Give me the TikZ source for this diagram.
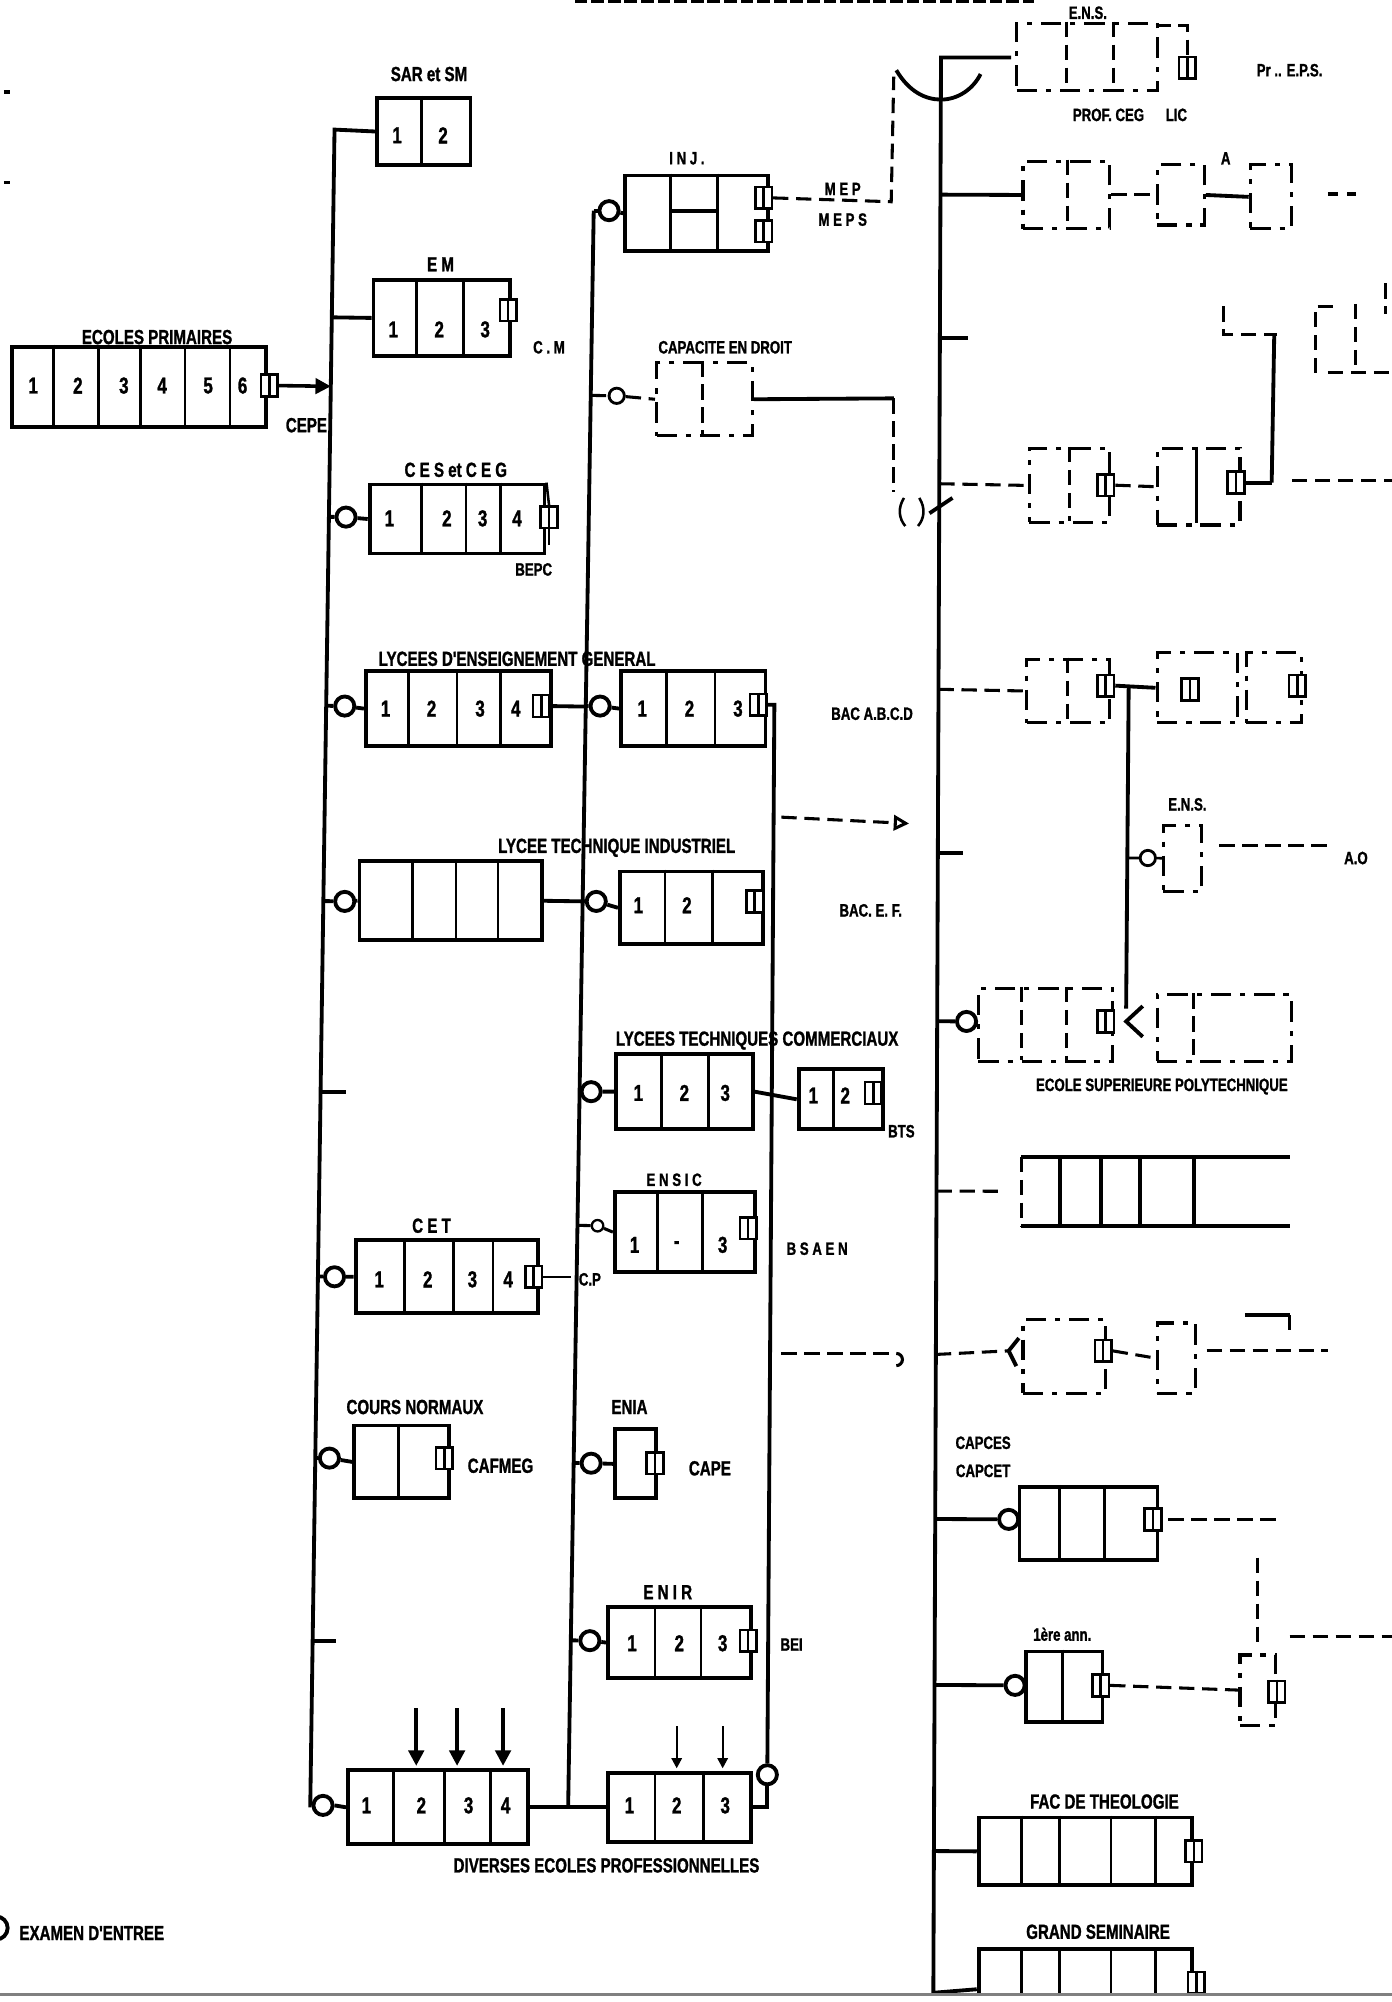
\documentclass[tikz,border=0pt]{standalone}
\usepackage{fontspec}
\newfontfamily\lf{Liberation Sans}[FakeStretch=0.74,FakeBold=1.2]
\usetikzlibrary{arrows.meta,calc}
\newcommand\lfont{\fontsize{16}{17}\selectfont\lf\bfseries}
\newcommand\sfont{\fontsize{14}{15}\selectfont\lf\bfseries}
\newcommand\nfont{\fontsize{18}{19}\selectfont\lf\bfseries}
\newcommand\bx[6][cbox]{\node[#1,minimum width=#5pt,minimum height=#6pt] (#2) at (#3,#4) {};}
\newcommand\mydv[4][tl]{\foreach \pa in {#4} {\draw[#1] (\pa,#2) -- (\pa,#3);}}
\newcommand\exsq[3]{\node[exq] (#1) at (#2,#3) {}; \draw[tl] (#1.north) -- (#1.south);}
\newcommand\nums[2]{\foreach \pa/\pb in {#2} {\node[nb] at (\pa,#1) {\pb};}}
\begin{document}
\begin{tikzpicture}[x=1pt,y=-1pt,
 bl/.style={line width=3pt},
 tl/.style={line width=2pt},
 dl/.style={line width=2.4pt,dash pattern=on 12pt off 6pt},
 cbox/.style={draw,line width=3pt,inner sep=0pt,anchor=north west},
 dbox/.style={draw,line width=2.4pt,dash pattern=on 16pt off 7pt on 4pt off 7pt,inner sep=0pt,anchor=north west},
 ent/.style={circle,draw,line width=3pt,minimum size=15pt,inner sep=0pt,fill=white},
 exq/.style={draw,line width=2pt,minimum width=13pt,minimum height=17pt,inner sep=0pt,fill=white},
 lbl/.style={font=\lfont,inner sep=0pt},
 slbl/.style={font=\sfont,inner sep=0pt},
 nb/.style={font=\nfont,inner sep=0pt},
 arr/.style={line width=2.8pt,-{Triangle[length=12pt,width=12pt]}},
]
\useasboundingbox (0,0) rectangle (1090,1568);
\fill[white] (0,0) rectangle (1090,1568);
% margin marks and cut header
\draw[line width=2.5pt] (3,72) -- (8,72) (3,143) -- (8,143);
\draw[line width=3pt,dash pattern=on 10pt off 3pt] (450,1) -- (810,1);

% trunk coordinates
\coordinate (t1a) at (262,101.5);
\coordinate (t1b) at (243,1414);
\coordinate (t2a) at (465,165);
\coordinate (t2b) at (445,1414);
\coordinate (t4a) at (737,45);
\coordinate (t4b) at (731,1562);

% ===== ECOLES PRIMAIRES =====
\bx{ep}{8}{270}{199}{63}
\mydv{270}{333}{42,77,110,145,180}
\nums{302}{26/1,61/2,97/3,127/4,163/5,190/6}
\node[lbl] at (123,264) {ECOLES PRIMAIRES};
\exsq{epx}{211}{302}
\node[lbl] at (240,333) {CEPE};
\draw[arr] (epx.east) -- ($(t1a)!(epx.east)!(t1b)$);

% ===== SAR et SM =====
\bx{sar}{294}{75}{73}{53}
\mydv{75}{128}{330}
\nums{106}{311/1,347/2}
\node[lbl] at (336,58) {SAR et SM};

% ===== E M =====
\bx{em}{291}{218}{107}{59}
\mydv{218}{277}{326,363}
\nums{258}{308/1,344/2,380/3}
\node[lbl] at (345,207) {E M};
\exsq{emx}{398}{243}
\node[slbl] at (430,272) {C . M};
\draw[bl] (em.west) -- ($(t1a)!(em.west)!(t1b)$);

% ===== CES et CEG =====
\bx{ces}{288}{378}{137}{54}
\mydv{378}{432}{330,365,392}
\nums{406}{305/1,350/2,378/3,405/4}
\node[lbl] at (357,368) {C E S et C E G};
\exsq{cesx}{430}{405}
\draw[tl] (ces.north east) -- (cesx.north);
\draw[tl] (cesx.south) -- ++(0,12);
\node[slbl] at (418,446) {BEPC};
\node[ent] (cesc) at (271,405) {};
\draw[bl] ($(t1a)!(cesc)!(t1b)$) -- (cesc) -- (ces.west);

% ===== LYCEES D'ENSEIGNEMENT GENERAL =====
\bx{lg}{285}{524}{145}{59}
\mydv{524}{583}{320,358,392}
\nums{555}{302/1,338/2,376/3,404/4}
\exsq{lgx}{424}{553}
\node[lbl] at (405,516) {LYCEES D'ENSEIGNEMENT GENERAL};
\node[ent] (lgc) at (270,553) {};
\draw[bl] ($(t1a)!(lgc)!(t1b)$) -- (lgc) -- (lg.west);
\draw[bl] (lgx.east) -- ($(t2a)!(lgx.east)!(t2b)$);
\node[ent] (lg2c) at (470,553) {};
\bx{lg2}{485}{524}{113}{59}
\mydv{524}{583}{522,560}
\nums{555}{503/1,540/2,578/3}
\exsq{lg2x}{594}{552}
\draw[bl] ($(t2a)!(lg2c)!(t2b)$) -- (lg2c) -- (lg2.west);
\node[slbl] at (683,559) {BAC A.B.C.D};

% ===== LYCEE TECHNIQUE INDUSTRIEL =====
\bx{lti}{280}{673}{143}{62}
\mydv{673}{735}{323,357,390}
\node[ent] (ltic) at (270,706) {};
\draw[bl] ($(t1a)!(ltic)!(t1b)$) -- (ltic) -- (lti.west);
\draw[bl] (lti.east) -- ($(t2a)!(lti.east)!(t2b)$);
\node[ent] (lti2c) at (467,706) {};
\bx{lti2}{484}{681}{112}{57}
\mydv{681}{738}{521,558}
\nums{709}{500/1,538/2}
\exsq{lti2x}{591}{706}
\draw[bl] ($(t2a)!(lti2c)!(t2b)$) -- (lti2c) -- (lti2.west);
\node[lbl] at (483,664) {LYCEE TECHNIQUE INDUSTRIEL};
\node[slbl] at (682,713) {BAC. E. F.};

% stubs on trunk 1
\draw[bl] ($(t1a)!(0,852)!(t1b)$) -- ++(20,0);
\draw[bl] ($(t1a)!(0,1282)!(t1b)$) -- ++(18,0);

% ===== LYCEES TECHNIQUES COMMERCIAUX =====
\node[lbl] at (593,815) {LYCEES TECHNIQUES COMMERCIAUX};
\node[ent] (ltcc) at (463,855) {};
\bx{ltc}{481}{824}{107}{59}
\mydv{824}{883}{518,555}
\nums{856}{500/1,536/2,568/3}
\draw[bl] ($(t2a)!(ltcc)!(t2b)$) -- (ltcc) -- (ltc.west);
\bx{ltc2}{624}{836}{66}{47}
\mydv{836}{883}{653}
\nums{858}{637/1,662/2}
\exsq{ltc2x}{684}{856}
\draw[bl] (ltc.east) -- (ltc2.west);
\node[slbl] at (706,886) {BTS};

% trunk 3 circle
\node[ent] (dc3) at (601,1390) {};

% ===== C E T =====
\bx{cet}{277}{970}{143}{57}
\mydv{970}{1027}{317,355,386}
\nums{1002}{297/1,335/2,370/3,398/4}
\exsq{cetx}{418}{1000}
\node[lbl] at (338,960) {C E T};
\draw[tl] (cetx.east) -- ++(22,0);
\node[slbl] at (462,1002) {C.P};
\node[ent] (cetc) at (262,1000) {};
\draw[bl] ($(t1a)!(cetc)!(t1b)$) -- (cetc) -- (cet.west);

% ===== E N S I C =====
\node[slbl] at (528,924) {E N S I C};
\bx{ens}{480}{932}{110}{63}
\mydv{932}{995}{515,550}
\nums{975}{497/1,530/-,566/3}
\exsq{ensx}{586}{962}
\node[ent,line width=1.8pt,minimum size=9pt] (ensc) at (468,960) {};
\draw[dl] ($(t2a)!(ensc)!(t2b)$) -- (ensc) -- (ens.west);
\node[slbl] at (640,978) {B S A E N};

% ===== COURS NORMAUX =====
\bx{cn}{276}{1115}{74}{57}
\mydv{1115}{1172}{312}
\exsq{cnx}{348}{1142}
\node[lbl] at (325,1102) {COURS NORMAUX};
\node[lbl] at (392,1148) {CAFMEG};
\node[ent] (cnc) at (258,1142) {};
\draw[bl] ($(t1a)!(cnc)!(t1b)$) -- (cnc) -- (cn.west);

% ===== ENIA =====
\bx{enia}{480}{1118}{32}{54}
\exsq{eniax}{513}{1146}
\node[lbl] at (493,1102) {ENIA};
\node[lbl] at (556,1150) {CAPE};
\node[ent] (eniac) at (463,1146) {};
\draw[bl] ($(t2a)!(eniac)!(t2b)$) -- (eniac) -- (enia.west);

% ===== E N I R =====
\node[lbl] at (523,1247) {E N I R};
\bx{enir}{475}{1257}{112}{56}
\mydv{1257}{1313}{513,549}
\nums{1287}{495/1,532/2,566/3}
\exsq{enirx}{586}{1285}
\node[slbl] at (620,1288) {BEI};
\node[ent] (enirc) at (462,1285) {};
\draw[bl] ($(t2a)!(enirc)!(t2b)$) -- (enirc) -- (enir.west);

% ===== DIVERSES ECOLES PROFESSIONNELLES =====
\bx{dv1}{271}{1385}{141}{58}
\mydv{1385}{1443}{308,348,384}
\nums{1414}{287/1,330/2,367/3,396/4}
\foreach \pa in {326,358,394} {\draw[arr] (\pa,1338) -- (\pa,1383);}
\node[ent] (d1c) at (253,1414) {};
\bx{dv2}{475}{1387}{112}{54}
\mydv{1387}{1441}{513,551}
\nums{1414}{493/1,530/2,568/3}
\foreach \pa in {530,566} {\draw[line width=1.8pt,-{Triangle[length=8pt,width=8pt]}] (\pa,1352) -- (\pa,1385);}
\node[lbl] at (475,1461) {DIVERSES ECOLES PROFESSIONNELLES};
\draw[bl] (dv1.east) -- (dv2.west);

% trunks drawn
\draw[bl] (sar.west) -- (t1a) -- (t1b) -- (d1c.west);
\draw[bl] (d1c.east) -- (dv1.west);
\draw[bl] (t2b) -- (t2a);
\draw[bl] (lg2x.east) -- ++(5,0) -- (dc3.north);
\draw[bl] (dc3.south) |- (dv2.east);

% ===== INJ =====
\node[ent] (injc) at (477,165) {};
\draw[bl] (t2a) -- (injc);
\bx{inj}{488}{136}{112}{59}
\mydv{136}{195}{525,562}
\draw[bl] (525,165) -- (562,165);
\draw[bl] (injc) -- (inj.west);
\exsq{injx}{598}{155}
\exsq{injy}{598}{181}
\node[slbl] at (538,124) {I N J .};
\node[slbl] at (660,148) {M E P};
\node[slbl] at (660,172) {M E P S};
\draw[dl] (injx.east) -- (698,158) -- (700,60);

% ===== CAPACITE EN DROIT =====
\node[slbl] at (568,272) {CAPACITE EN DROIT};
\bx[dbox]{capd}{513}{283}{75}{57}
\mydv[dl]{283}{340}{550}
\node[ent,line width=2.2pt,minimum size=12pt] (capc) at (483,310) {};
\draw[dl] ($(t2a)!(capc)!(t2b)$) -- (capc) -- (capd.west);
\draw[bl] (capd.east) -- (700,312);
\draw[dl] (700,312) -- (700,385);
\draw[tl] (708,390) .. controls (703,398) and (704,406) .. (709,412);
\draw[tl] (720,390) .. controls (725,398) and (724,406) .. (719,412);
\draw[bl] (728,402) -- (746,390);

% ===== big trunk =====
\draw[bl] (t4b) -- (t4a) -- (792,45);
\draw[bl] (702,55) .. controls (712,72) and (725,78) .. (737,78) .. controls (750,78) and (762,70) .. (768,58);

% top E.N.S.
\bx[dbox]{ens0}{795}{17}{110}{53}
\mydv[dl]{17}{70}{835,872}
\exsq{ens0x}{930}{53}
\draw[dl] (905,20) -- (930,20) -- (ens0x.north);
\node[slbl] at (852,10) {E.N.S.};
\node[slbl] at (885,90) {PROF. CEG \quad LIC};
\node[slbl] at (1010,55) {Pr .. E.P.S.};

% row 150
\bx[dbox]{r1a}{800}{125}{68}{53}
\mydv[dl]{125}{178}{836}
\bx[dbox]{r1b}{905}{128}{37}{47}
\bx[dbox]{r1c}{978}{128}{32}{50}
\node[slbl] at (960,124) {A};
\draw[bl] ($(t4a)!(r1a.west)!(t4b)$) -- (r1a.west);
\draw[dl] (r1a.east) -- (r1b.west);
\draw[bl] (r1b.east) -- (r1c.west);
\draw[bl] (1040,152) -- (1048,152) (1055,152) -- (1062,152);

% row 262
\draw[bl] ($(t4a)!(0,262)!(t4b)$) -- ++(22,0);
\draw[dl] (958,240) -- (958,262) -- (1000,262);
\draw[dl] (1030,292) -- (1030,240) -- (1045,240);
\draw[dl] (1062,238) -- (1062,292);
\draw[dl] (1085,222) -- (1085,246);
\draw[dl] (1040,292) -- (1090,292);
\draw[bl] (998,262) -- (996,378);

% row 376
\bx[dbox]{r3a}{805}{350}{63}{58}
\mydv[dl]{350}{408}{838}
\exsq{r3ax}{866}{380}
\bx[dbox]{r3b}{905}{350}{65}{60}
\mydv{350}{410}{937}
\exsq{r3bx}{968}{378}
\draw[dl] ($(t4a)!(0,376)!(t4b)$) -- (r3a.west);
\draw[dl] (r3ax.east) -- (r3b.west);
\draw[bl] (r3bx.east) -- (996,378);
\draw[dl] (1012,376) -- (1090,376);

% row 537
\bx[dbox]{r4a}{803}{515}{65}{50}
\mydv[dl]{515}{565}{836}
\exsq{r4ax}{866}{537}
\bx[dbox]{r4b}{905}{510}{63}{55}
\exsq{r4bx}{932}{540}
\bx[dbox]{r4c}{975}{510}{43}{55}
\exsq{r4cx}{1016}{537}
\draw[dl] ($(t4a)!(0,537)!(t4b)$) -- (r4a.west);
\draw[bl] (r4ax.east) -- (r4b.west);
\draw[bl] (884,537) -- (882,790);
\draw[bl] (895,788) -- (882,800) -- (895,812);

% row 665
\draw[bl] ($(t4a)!(0,665)!(t4b)$) -- ++(20,0);
\bx[dbox]{r5}{910}{645}{30}{52}
\node[ent,line width=2.2pt,minimum size=12pt] (r5c) at (899,672) {};
\draw[tl] (883,672) -- (r5c) -- (r5.west);
\node[slbl] at (930,630) {E.N.S.};
\draw[dl] (955,662) -- (1040,662);
\node[slbl] at (1062,672) {A.O};

% row 798
\node[ent] (r6c) at (757,800) {};
\bx[dbox]{r6a}{765}{773}{105}{57}
\mydv[dl]{773}{830}{800,835}
\exsq{r6ax}{866}{800}
\bx[dbox]{r6b}{905}{778}{105}{52}
\mydv[dl]{778}{830}{935}
\draw[bl] ($(t4a)!(r6c)!(t4b)$) -- (r6c) -- (r6a.west);
\node[slbl] at (910,851) {ECOLE SUPERIEURE POLYTECHNIQUE};

% row 932
\node[inner sep=0pt,minimum width=210pt,minimum height=54pt,anchor=north west] (r7) at (800,906) {};
\draw[bl] (r7.north west) -- (r7.north east);
\draw[bl] (r7.south west) -- (r7.south east);
\draw[dl] (r7.north west) -- (r7.south west);
\mydv[bl]{906}{960}{830,862,893,935}
\draw[dl] ($(t4a)!(r7.west)!(t4b)$) -- (782,933);

% row 1058
\bx[dbox]{r8a}{800}{1032}{65}{58}
\exsq{r8ax}{864}{1058}
\bx[dbox]{r8b}{905}{1035}{30}{55}
\draw[dl] ($(t4a)!(0,1058)!(t4b)$) -- (790,1058);
\draw[bl] (798,1048) -- (790,1058) -- (796,1070);
\draw[dl] (r8ax.east) -- (r8b.west);
\draw[bl] (975,1030) -- (1010,1030);
\draw[dl] (1010,1030) -- (1010,1046);
\draw[dl] (945,1058) -- (1040,1058);

% passerelles
\draw[dl,-{Triangle[open,length=12pt,width=12pt]}] (612,640) -- (712,645);
\draw[dl,-{Hooks[right,length=6pt]}] (612,1060) -- (708,1060);

% row 1190
\node[slbl] at (770,1130) {CAPCES};
\node[slbl] at (770,1152) {CAPCET};
\node[ent] (r9c) at (790,1190) {};
\bx{r9}{797}{1163}{108}{57}
\mydv{1163}{1220}{830,865}
\exsq{r9x}{903}{1190}
\draw[bl] ($(t4a)!(r9c)!(t4b)$) -- (r9c);
\draw[dl] (915,1190) -- (1000,1190);

% row 1320
\node[slbl] at (832,1280) {1ère ann.};
\node[ent] (r10c) at (795,1320) {};
\bx{r10}{802}{1292}{60}{55}
\mydv{1292}{1347}{832}
\exsq{r10x}{862}{1320}
\bx[dbox]{r10b}{970}{1295}{28}{55}
\exsq{r10bx}{1000}{1325}
\draw[bl] ($(t4a)!(r10c)!(t4b)$) -- (r10c);
\draw[dl] (r10x.east) -- (r10b.west);
\draw[dl] (985,1220) -- (985,1290);
\draw[dl] (1010,1282) -- (1090,1282);

% FAC DE THEOLOGIE
\bx{fac}{765}{1422}{167}{53}
\mydv{1422}{1475}{800,830,870,905}
\exsq{facx}{935}{1450}
\node[lbl] at (865,1411) {FAC DE THEOLOGIE};
\draw[bl] ($(t4a)!(fac.west)!(t4b)$) -- (fac.west);

% GRAND SEMINAIRE
\bx{gs}{765}{1525}{167}{50}
\mydv{1525}{1575}{800,830,870,905}
\exsq{gsx}{937}{1553}
\node[lbl] at (860,1513) {GRAND SEMINAIRE};
\draw[bl] ($(t4a)!(0,1558)!(t4b)$) -- (765,1558);

% legend
\node[ent,minimum size=18pt] (leg) at (-3,1510) {};
\node[lbl,anchor=west] at (15,1514) {EXAMEN D'ENTREE};
\fill[white] (0,1563) rectangle (1090,1568);
\draw[gray,line width=2pt] (0,1562) -- (1090,1562);
\end{tikzpicture}
\end{document}
